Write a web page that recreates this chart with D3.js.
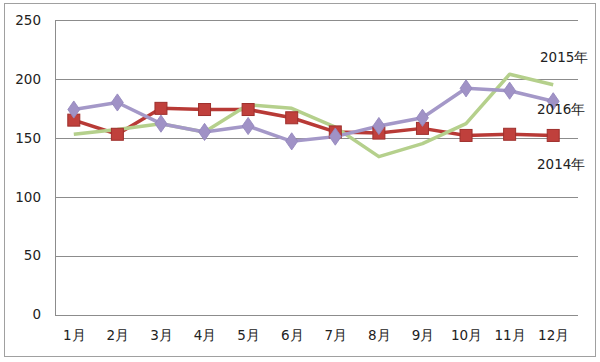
<!DOCTYPE html>
<html><head><meta charset="utf-8">
<script src="https://cdn.jsdelivr.net/npm/d3@7"></script>
<style>body{margin:0;background:#fff}svg{display:block}</style>
</head><body>
<svg id="c" width="600" height="362"></svg>
<script>
const months = ["1月","2月","3月","4月","5月","6月","7月","8月","9月","10月","11月","12月"];
const yTicks = [0,50,100,150,200,250];
const s2014 = [165,153,175,174,174,167,155,154,158,152,153,152];
const s2015 = [153,157,162,155,178,175,159,134,145,162,204,195];
const s2016 = [174,180,162,155,160,147,151,160,167,192,190,181];
const seriesNames = ["2014年","2015年","2016年"];

(function(){
const svg = d3.select("#c");
const pLeft = 55, pRight = 578, pTop = 20, pBottom = 314.5;
const font = "'DejaVu Sans', Verdana, sans-serif";

svg.append("rect").attr("x",4.5).attr("y",3.5).attr("width",591).attr("height",353)
  .attr("fill","#fff").attr("stroke","#a0a0a0").attr("stroke-width",1);

const x = d3.scalePoint().domain(months).range([pLeft - 3, pRight - 3]).padding(0.5);
const y = d3.scaleLinear().domain([0,250]).range([pBottom, pTop]);

svg.append("g").selectAll("line").data(yTicks).join("line")
  .attr("x1",pLeft).attr("x2",pRight)
  .attr("y1",d=>Math.round(y(d))+0.5).attr("y2",d=>Math.round(y(d))+0.5)
  .attr("stroke","#8c8c8c").attr("stroke-width",1);
svg.append("line").attr("x1",pLeft+0.5).attr("x2",pLeft+0.5)
  .attr("y1",Math.round(y(250))+0.5).attr("y2",Math.round(y(0))+0.5)
  .attr("stroke","#8c8c8c");

const yAxis = d3.axisLeft(y).tickValues(yTicks).tickSize(0).tickPadding(14);
const gy = svg.append("g").attr("transform",`translate(${pLeft},0)`).call(yAxis);
gy.select(".domain").remove();
gy.selectAll("text").attr("font-family",font).attr("font-size",13.5).attr("fill","#222");

const xAxis = d3.axisBottom(x).tickSize(0).tickPadding(16);
const gx = svg.append("g").attr("transform",`translate(0,${pBottom})`).call(xAxis);
gx.select(".domain").remove();
gx.selectAll("text").attr("font-family",font).attr("font-size",13.5).attr("fill","#222");

const line = d3.line().x((d,i)=>x(months[i])).y(d=>y(d));

svg.append("path").datum(s2014).attr("d",line).attr("fill","none")
  .attr("stroke","#b83a36").attr("stroke-width",3.5).attr("stroke-linejoin","round");
svg.append("path").datum(s2015).attr("d",line).attr("fill","none")
  .attr("stroke","#b5d08c").attr("stroke-width",3.5).attr("stroke-linejoin","round");
svg.append("path").datum(s2016).attr("d",line).attr("fill","none")
  .attr("stroke","#a498c8").attr("stroke-width",3.5).attr("stroke-linejoin","round");

svg.append("g").selectAll("rect").data(s2014).join("rect")
  .attr("x",(d,i)=>x(months[i])-6).attr("y",d=>y(d)-6)
  .attr("width",12).attr("height",12)
  .attr("fill","#c0403c").attr("stroke","#9e2f2c").attr("stroke-width",1);
const diamond = d3.symbol().type(d3.symbolDiamond).size(85);
svg.append("g").selectAll("path").data(s2016).join("path")
  .attr("d",diamond)
  .attr("transform",(d,i)=>`translate(${x(months[i])},${y(d)}) scale(1.2,1)`)
  .attr("fill","#a092c6").attr("stroke","#9487bd").attr("stroke-width",0.8);

const labels = [
  {t:seriesNames[1], x:540, y:62},
  {t:seriesNames[2], x:537, y:114},
  {t:seriesNames[0], x:537, y:169}
];
svg.append("g").selectAll("text").data(labels).join("text")
  .attr("x",d=>d.x).attr("y",d=>d.y).text(d=>d.t)
  .attr("font-family",font).attr("font-size",13.5).attr("fill","#222");
})();
</script>
</body></html>
